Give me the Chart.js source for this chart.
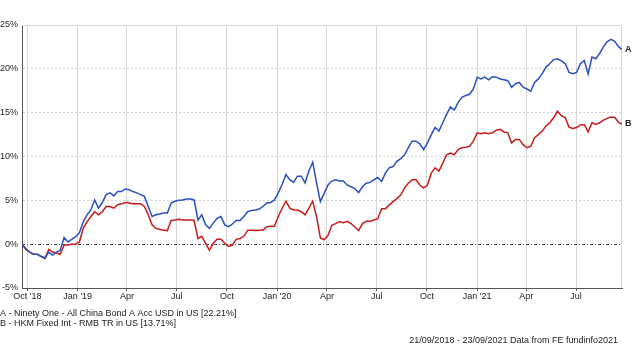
<!DOCTYPE html>
<html>
<head>
<meta charset="utf-8">
<script src="https://cdn.jsdelivr.net/npm/chart.js@4/dist/chart.umd.min.js"></script>
<style>
  html, body { margin: 0; padding: 0; background: #fff; }
  #wrap { width: 640px; height: 360px; }
</style>
</head>
<body>
<div id="wrap"><canvas id="perf" width="640" height="360"></canvas></div>
<script>
var startDate = "2018-09-21";
var endDate = "2021-09-23";
var stepDays = 7;

var seriesTags = ["A", "B"];
var seriesNames = [
  "Ninety One - All China Bond A Acc USD in US",
  "HKM Fixed Int - RMB TR in US"
];

var fundA = [
  0, -0.5, -0.9, -1.15, -1.15, -1.4, -1.55, -0.9, -1.25, -0.9,
  -0.7, 0.75, 0.25, 0.55, 0.85, 1.3, 2.55, 3.35, 3.9, 5.05,
  4.1, 4.75, 5.65, 5.85, 5.5, 6.0, 6.0, 6.3, 6.2, 6.0,
  5.85, 5.65, 5.45, 4.3, 3.15, 3.35, 3.45, 3.55, 3.55, 4.7,
  4.9, 5.0, 5.05, 5.15, 5.15, 5.05, 2.75, 3.35, 2.2, 1.8,
  2.4, 2.95, 3.15, 2.2, 2.0, 2.3, 2.7, 2.7, 3.15, 3.7,
  3.85, 3.9, 4.0, 4.3, 4.7, 4.75, 5.05, 5.85, 6.8, 7.95,
  7.35, 7.05, 7.75, 7.75, 7.0, 8.35, 9.35, 7.0, 4.85, 5.8,
  6.75, 7.2, 7.35, 7.2, 7.2, 6.75, 6.55, 6.35, 5.9, 6.55,
  6.95, 7.05, 7.35, 7.6, 7.15, 8.1, 8.7, 8.85, 9.45, 9.75,
  10.2, 11.0, 11.75, 11.75, 11.45, 10.8, 11.55, 12.5, 13.3, 12.9,
  13.85, 14.8, 15.65, 15.3, 16.15, 16.75, 16.95, 17.1, 17.7, 19.05,
  18.85, 19.05, 18.75, 19.1, 19.05, 18.85, 18.75, 18.65, 17.9, 18.3,
  18.45, 17.9, 17.7, 17.45, 18.45, 18.85, 19.45, 20.2, 20.6, 21.05,
  21.15, 20.9, 20.6, 19.6, 19.45, 19.6, 20.6, 20.95, 19.4, 21.35,
  21.15, 21.75, 22.5, 23.1, 23.35, 23.1, 22.5, 22.21
];

var fundB = [
  0, -0.6, -0.9, -1.15, -1.15, -1.4, -1.65, -0.6, -0.9, -1.0,
  -1.15, -0.1, -0.1, 0, 0, 0.25, 1.8, 2.55, 3.15, 3.7,
  3.35, 3.7, 4.3, 4.3, 4.1, 4.5, 4.6, 4.75, 4.7, 4.6,
  4.6, 4.6, 4.3, 3.35, 2.2, 1.8, 1.7, 1.6, 1.55, 2.7,
  2.75, 2.85, 2.75, 2.75, 2.75, 2.7, 0.65, 0.9, 0.1, -0.7,
  0.1, 0.55, 0.55, 0.1, -0.25, -0.1, 0.55, 0.65, 0.9, 1.6,
  1.6, 1.55, 1.6, 1.6, 2.0, 2.05, 2.05, 3.15, 4.1, 4.9,
  4.1, 3.9, 3.9, 3.7, 3.35, 4.1, 4.9, 3.15, 0.7, 0.5,
  1.0, 2.15, 2.35, 2.55, 2.45, 2.6, 2.35, 1.95, 1.55, 2.35,
  2.6, 2.6, 2.75, 2.9, 4.05, 4.05, 4.45, 4.85, 5.2, 5.6,
  6.4, 6.95, 7.35, 7.35, 6.75, 6.4, 6.75, 8.1, 8.7, 8.35,
  9.25, 10.2, 10.4, 10.2, 10.8, 11.0, 11.05, 11.15, 11.75, 12.7,
  12.6, 12.7, 12.6, 12.7, 13.0, 13.1, 12.8, 12.7, 11.55, 11.95,
  11.95, 11.35, 11.0, 11.15, 12.15, 12.5, 12.9, 13.5, 13.85, 14.45,
  15.15, 14.65, 14.45, 13.35, 13.2, 13.3, 13.6, 13.65, 12.8, 13.85,
  13.65, 13.85, 14.15, 14.35, 14.5, 14.45, 13.85, 13.71
];

var xTickDates = ["2018-10-01", "2019-01-01", "2019-04-01", "2019-07-01", "2019-10-01", "2020-01-01",
  "2020-04-01", "2020-07-01", "2020-10-01", "2021-01-01", "2021-04-01", "2021-07-01"];
var xTickLabels = ["Oct '18", "Jan '19", "Apr", "Jul", "Oct", "Jan '20", "Apr", "Jul", "Oct", "Jan '21", "Apr", "Jul"];

var yMin = -5, yMax = 25, yStep = 5;

function dayOffset(d) {
  return Math.round((Date.parse(d) - Date.parse(startDate)) / 86400000);
}
var totalDays = dayOffset(endDate);
var tickDays = xTickDates.map(dayOffset);

function toPoints(vals) {
  return vals.map(function (v, i) {
    return { x: Math.min(i * stepDays, totalDays), y: v };
  });
}

var fontFamily = "'Liberation Sans', Arial, sans-serif";
var colA = "#2b50bd";
var colB = "#c81b1b";

var extras = {
  id: "extras",
  beforeDatasetsDraw: function (chart) {
    var ctx = chart.ctx, a = chart.chartArea;
    ctx.save();
    ctx.strokeStyle = "#d6d6d6";
    ctx.lineWidth = 1;
    ctx.beginPath();
    ctx.moveTo(a.left, a.top + 0.5);
    ctx.lineTo(a.right - 0.5, a.top + 0.5);
    ctx.lineTo(a.right - 0.5, a.bottom);
    ctx.stroke();
    var y0 = Math.round(chart.scales.y.getPixelForValue(0)) + 0.5;
    ctx.strokeStyle = "#444";
    ctx.setLineDash([3, 2, 1, 2]);
    ctx.beginPath();
    ctx.moveTo(a.left, y0);
    ctx.lineTo(a.right, y0);
    ctx.stroke();
    ctx.restore();
  },
  afterDraw: function (chart) {
    var ctx = chart.ctx;
    ctx.save();
    ctx.fillStyle = "#222";
    ctx.textBaseline = "middle";
    chart.data.datasets.forEach(function (ds, i) {
      var meta = chart.getDatasetMeta(i);
      var pt = meta.data[meta.data.length - 1];
      ctx.font = "bold 9px " + fontFamily;
      ctx.textAlign = "left";
      ctx.fillText(seriesTags[i], pt.x + 3, pt.y);
    });
    ctx.font = "9px " + fontFamily;
    var finals = [fundA[fundA.length - 1], fundB[fundB.length - 1]];
    seriesTags.forEach(function (t, i) {
      ctx.fillText(t + " - " + seriesNames[i] + " [" + finals[i].toFixed(2) + "%]", 0, 314 + i * 9.5);
    });
    ctx.textAlign = "right";
    ctx.fillText("21/09/2018 - 23/09/2021 Data from FE fundinfo2021", 618, 341);
    ctx.restore();
  }
};

new Chart(document.getElementById("perf").getContext("2d"), {
  type: "line",
  data: {
    datasets: [
      { label: seriesTags[0], data: toPoints(fundA), borderColor: colA, borderWidth: 1.5, pointRadius: 0, tension: 0 },
      { label: seriesTags[1], data: toPoints(fundB), borderColor: colB, borderWidth: 1.5, pointRadius: 0, tension: 0 }
    ]
  },
  options: {
    responsive: false,
    animation: false,
    devicePixelRatio: 1,
    layout: { padding: { top: 25, right: 18, left: 0, bottom: 0 } },
    plugins: { legend: { display: false }, tooltip: { enabled: false } },
    scales: {
      x: {
        type: "linear",
        min: 0,
        max: totalDays,
        afterBuildTicks: function (scale) {
          scale.ticks = tickDays.map(function (v) { return { value: v }; });
        },
        afterFit: function (scale) { scale.height = 72; },
        grid: { color: "#d6d6d6", lineWidth: 1, tickColor: "#555", tickLength: 3 },
        border: { color: "#555", width: 1 },
        ticks: {
          autoSkip: false,
          maxRotation: 0,
          padding: 0,
          color: "#222",
          font: { family: fontFamily, size: 9 },
          callback: function (v, i) { return xTickLabels[i]; }
        }
      },
      y: {
        min: yMin,
        max: yMax,
        afterFit: function (scale) { scale.width = 22; },
        grid: {
          drawTicks: false,
          color: function (c) { return c.tick && c.tick.value === 0 ? "rgba(0,0,0,0)" : "#cfcfcf"; }
        },
        border: { color: "#555", width: 1, dash: [2, 2] },
        ticks: {
          stepSize: yStep,
          padding: 4,
          color: "#222",
          font: { family: fontFamily, size: 9 },
          callback: function (v) { return v + "%"; }
        }
      }
    }
  },
  plugins: [extras]
});
</script>
</body>
</html>
